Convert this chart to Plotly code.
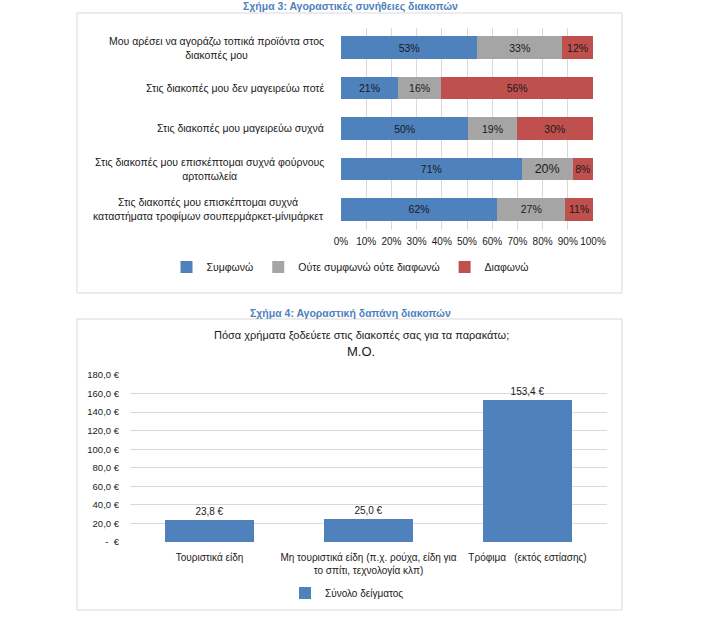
import plotly.graph_objects as go

# ---------------- Data: Chart 3 ----------------
statements = [
    "Μου αρέσει να αγοράζω τοπικά προϊόντα στος<br>διακοπές μου",
    "Στις διακοπές μου δεν μαγειρεύω ποτέ",
    "Στις διακοπές μου μαγειρεύω συχνά",
    "Στις διακοπές μου επισκέπτομαι συχνά φούρνους<br>αρτοπωλεία",
    "Στις διακοπές μου επισκέπτομαι συχνά<br>καταστήματα τροφίμων σουπερμάρκετ-μίνιμάρκετ",
]
series_names = ["Συμφωνώ", "Ούτε συμφωνώ ούτε διαφωνώ", "Διαφωνώ"]
agree = [53, 21, 50, 71, 62]
neutral = [33, 16, 19, 20, 27]
disagree = [12, 56, 30, 8, 11]
pct_ticks = [0, 10, 20, 30, 40, 50, 60, 70, 80, 90, 100]

# ---------------- Data: Chart 4 ----------------
spend_cats = [
    "Τουριστικά είδη",
    "Μη τουριστικά είδη (π.χ. ρούχα, είδη για<br>το σπίτι, τεχνολογία κλπ)",
    "Τρόφιμα   (εκτός εστίασης)",
]
spend_vals = [23.8, 25.0, 153.4]
spend_labels = ["23,8 €", "25,0 €", "153,4 €"]
spend_series = "Σύνολο δείγματος"
eur_ticks = [0, 20, 40, 60, 80, 100, 120, 140, 160, 180]
eur_tick_labels = ["-  €", "20,0 €", "40,0 €", "60,0 €", "80,0 €", "100,0 €",
                   "120,0 €", "140,0 €", "160,0 €", "180,0 €"]

W, H = 706, 624
OFF = 0  # page body margin is reset to 0 below
FONT = "Liberation Sans, Arial, sans-serif"
TXT = "#1a1a1a"
GRID = "#D9D9D9"
colors = ["#4F81BD", "#A5A5A5", "#C0504D"]

def px_x(v):
    return (v - OFF) / W

def px_y(v):
    return 1 - (v - OFF) / H

# 100% stacked: each row is shown as share of its own total (as Excel does)
row_totals = [a + n + d for a, n, d in zip(agree, neutral, disagree)]

fig = go.Figure()

for name, vals, col in zip(series_names, [agree, neutral, disagree], colors):
    shares = [v / t * 100 for v, t in zip(vals, row_totals)]
    sizes = [10.5] * len(vals)
    if name == series_names[1]:
        sizes = [10.5, 10.5, 10.5, 12.5, 10.5]
    fig.add_trace(go.Bar(
        y=statements, x=shares, name=name, orientation="h",
        marker=dict(color=col, line=dict(width=0)),
        text=[f"{v}%" for v in vals], textposition="inside", textangle=0,
        insidetextanchor="middle", constraintext="none",
        textfont=dict(family=FONT, size=sizes, color=TXT),
        xaxis="x", yaxis="y", legend="legend",
        hoverinfo="skip",
    ))

fig.add_trace(go.Bar(
    x=spend_cats, y=spend_vals, name=spend_series,
    marker=dict(color="#4F81BD", line=dict(width=0)),
    text=spend_labels, textposition="outside", textangle=0, cliponaxis=False,
    textfont=dict(family=FONT, size=10, color=TXT),
    xaxis="x2", yaxis="y2", legend="legend2", showlegend=True,
    hoverinfo="skip",
))

annotations = []
for s in statements:
    annotations.append(dict(
        x=px_x(326), xref="paper", y=s, yref="y", text=s,
        xanchor="right", yanchor="middle", align="center", showarrow=False,
        font=dict(family=FONT, size=10.5, color=TXT),
    ))

annotations += [
    dict(x=px_x(350), y=px_y(7), xref="paper", yref="paper",
         text="<b>Σχήμα 3: Αγοραστικές συνήθειες διακοπών</b>", showarrow=False,
         xanchor="center", yanchor="middle",
         font=dict(family=FONT, size=10.5, color="#4F81BD")),
    dict(x=px_x(350), y=px_y(313), xref="paper", yref="paper",
         text="<b>Σχήμα 4: Αγοραστική δαπάνη διακοπών</b>", showarrow=False,
         xanchor="center", yanchor="middle",
         font=dict(family=FONT, size=10.5, color="#4F81BD")),
    dict(x=px_x(361), y=px_y(335), xref="paper", yref="paper",
         text="Πόσα χρήματα ξοδεύετε στις διακοπές σας για τα παρακάτω;", showarrow=False,
         xanchor="center", yanchor="middle",
         font=dict(family=FONT, size=11, color=TXT)),
    dict(x=px_x(361), y=px_y(351), xref="paper", yref="paper",
         text="Μ.Ο.", showarrow=False,
         xanchor="center", yanchor="middle",
         font=dict(family=FONT, size=13, color=TXT)),
]

shapes = [
    dict(type="rect", xref="paper", yref="paper",
         x0=px_x(77), x1=px_x(622), y0=px_y(293), y1=px_y(13),
         line=dict(color=GRID, width=1), fillcolor="rgba(0,0,0,0)", layer="below"),
    dict(type="rect", xref="paper", yref="paper",
         x0=px_x(77), x1=px_x(622), y0=px_y(610), y1=px_y(319),
         line=dict(color=GRID, width=1), fillcolor="rgba(0,0,0,0)", layer="below"),
]

fig.update_layout(
    width=W, height=H,
    margin=dict(l=0, r=0, t=0, b=0, autoexpand=False),
    paper_bgcolor="white", plot_bgcolor="white",
    barmode="stack", bargap=0.44,
    font=dict(family=FONT, size=10, color=TXT),
    annotations=annotations, shapes=shapes,
    xaxis=dict(
        domain=[px_x(341), px_x(593)], range=[0, 100], anchor="y",
        tickvals=pct_ticks, ticktext=[f"{t}%" for t in pct_ticks], tickangle=0,
        showgrid=True, gridcolor=GRID, gridwidth=1, zeroline=False,
        showline=False, ticks="", ticklabelstandoff=4,
        tickfont=dict(family=FONT, size=10, color=TXT),
        fixedrange=True, automargin=False,
    ),
    yaxis=dict(
        domain=[px_y(229.5), px_y(27.5)], anchor="x",
        type="category", autorange="reversed",
        showticklabels=False, showgrid=False, zeroline=False, ticks="",
        fixedrange=True, automargin=False,
    ),
    xaxis2=dict(
        domain=[px_x(130), px_x(607)], anchor="y2",
        type="category", showgrid=False, zeroline=False, showline=False, ticks="",
        tickangle=0, ticklabelstandoff=8,
        tickfont=dict(family=FONT, size=10, color=TXT),
        fixedrange=True, automargin=False,
    ),
    yaxis2=dict(
        domain=[px_y(542), px_y(375)], anchor="x2", range=[0, 180],
        tickvals=eur_ticks, ticktext=eur_tick_labels,
        showgrid=True, gridcolor=GRID, gridwidth=1, zeroline=False,
        showline=False, ticks="", ticklabelstandoff=10,
        tickfont=dict(family=FONT, size=9.5, color=TXT),
        fixedrange=True, automargin=False,
    ),
    legend=dict(
        orientation="h", x=px_x(350), y=px_y(267), xanchor="center", yanchor="middle",
        font=dict(family=FONT, size=10.5, color=TXT), traceorder="normal",
        itemwidth=30, bgcolor="rgba(0,0,0,0)",
    ),
    legend2=dict(
        orientation="h", x=px_x(347), y=px_y(593), xanchor="center", yanchor="middle",
        font=dict(family=FONT, size=10, color=TXT),
        itemwidth=30, bgcolor="rgba(0,0,0,0)",
    ),
    showlegend=True,
)

fig.write_html(
    "out.html",
    config={"displayModeBar": False},
    post_script="document.body.style.margin='0px'; document.body.style.overflow='hidden';",
)
